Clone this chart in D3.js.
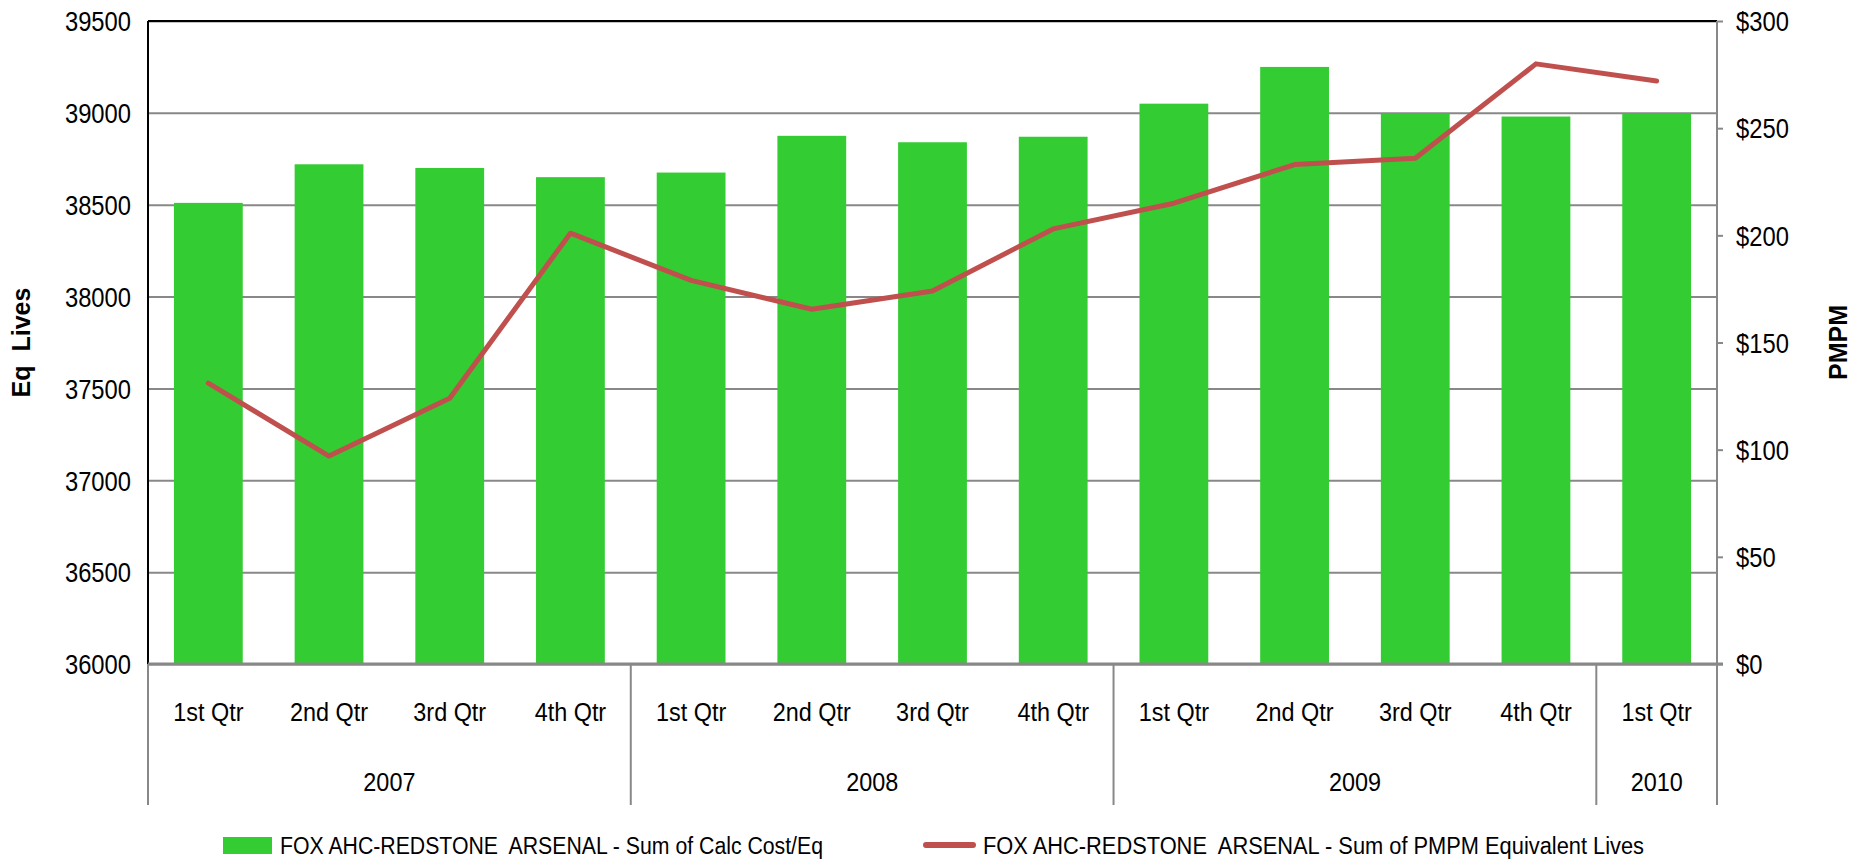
<!DOCTYPE html>
<html>
<head>
<meta charset="utf-8">
<script src="https://cdn.jsdelivr.net/npm/d3@7"></script>
<style>
  body { margin: 0; background: #fff; }
  svg { display: block; font-family: "Liberation Sans", Arial, sans-serif; }
</style>
</head>
<body>
<div id="chart"></div>
<script>
// chart values
const quarters = ["1st Qtr", "2nd Qtr", "3rd Qtr", "4th Qtr",
                  "1st Qtr", "2nd Qtr", "3rd Qtr", "4th Qtr",
                  "1st Qtr", "2nd Qtr", "3rd Qtr", "4th Qtr",
                  "1st Qtr"];
const years = ["2007", "2008", "2009", "2010"];
const quartersPerYear = [4, 4, 4, 1];
const calcCost = [38510, 38720, 38700, 38650, 38675, 38875, 38840, 38870, 39050, 39250, 38995, 38980, 38995];
const pmpm = [131, 97, 124, 201, 179, 165.5, 174, 203, 215, 233, 236, 280, 272];
const leftTicks = [36000, 36500, 37000, 37500, 38000, 38500, 39000, 39500];
const rightTicks = [0, 50, 100, 150, 200, 250, 300];
const seriesNames = ["FOX AHC-REDSTONE  ARSENAL - Sum of Calc Cost/Eq",
                     "FOX AHC-REDSTONE  ARSENAL - Sum of PMPM Equivalent Lives"];

const width = 1866;
const height = 859;
const plot = { left: 148, right: 1717, top: 21, bottom: 664, catBottom: 805 };
const barColor = "#33CC33";
const lineColor = "#C0504D";
const gridColor = "#888888";

const svg = d3.select("#chart")
    .append("svg")
    .attr("width", width)
    .attr("height", height);

// scales
const x = d3.scaleBand()
    .domain(d3.range(quarters.length))
    .range([plot.left, plot.right])
    .paddingInner(0.43)
    .paddingOuter(0.215);

const yLeft = d3.scaleLinear().domain([36000, 39500]).range([plot.bottom, plot.top]);
const yRight = d3.scaleLinear().domain([0, 300]).range([plot.bottom, plot.top]);

// gridlines + left labels
const leftAxis = svg.append("g")
    .attr("transform", `translate(${plot.left},0)`)
    .call(d3.axisLeft(yLeft).tickValues(leftTicks).tickSize(-(plot.right - plot.left)).tickFormat(d => d));
leftAxis.select(".domain").remove();
leftAxis.selectAll(".tick line")
    .attr("stroke", gridColor)
    .attr("stroke-width", 2);
leftAxis.selectAll(".tick text")
    .attr("x", 0)
    .attr("dy", "0.36em")
    .attr("transform", "translate(-17,0) scale(0.88,1)")
    .attr("font-size", 27)
    .attr("fill", "#000");

// bars
svg.append("g")
    .selectAll("rect")
    .data(calcCost)
    .join("rect")
    .attr("x", (d, i) => x(i))
    .attr("y", d => yLeft(d))
    .attr("width", x.bandwidth())
    .attr("height", d => yLeft(36000) - yLeft(d))
    .attr("fill", barColor);

// frame: black top + left, grey right axis and base
svg.append("line")
    .attr("x1", plot.left).attr("x2", plot.right)
    .attr("y1", plot.top).attr("y2", plot.top)
    .attr("stroke", "#000").attr("stroke-width", 2);
svg.append("line")
    .attr("x1", plot.left).attr("x2", plot.left)
    .attr("y1", plot.top).attr("y2", plot.bottom)
    .attr("stroke", "#000").attr("stroke-width", 2);

// right axis
const rightAxis = svg.append("g")
    .attr("transform", `translate(${plot.right},0)`)
    .call(d3.axisRight(yRight).tickValues(rightTicks).tickSize(6).tickSizeOuter(0).tickFormat(d3.format("$")));
rightAxis.select(".domain").remove();
rightAxis.selectAll(".tick line").attr("stroke", gridColor).attr("stroke-width", 2);
rightAxis.selectAll(".tick text")
    .attr("x", 0)
    .attr("dy", "0.36em")
    .attr("transform", "translate(19,0) scale(0.88,1)")
    .attr("font-size", 27)
    .attr("fill", "#000");
svg.append("line")
    .attr("x1", plot.right).attr("x2", plot.right)
    .attr("y1", plot.top).attr("y2", plot.catBottom)
    .attr("stroke", gridColor).attr("stroke-width", 2);

// category axis base
svg.append("line")
    .attr("x1", plot.left).attr("x2", plot.right + 6)
    .attr("y1", plot.bottom).attr("y2", plot.bottom)
    .attr("stroke", gridColor).attr("stroke-width", 3);

// line series
const line = d3.line()
    .x((d, i) => x(i) + x.bandwidth() / 2)
    .y(d => yRight(d));

svg.append("path")
    .datum(pmpm)
    .attr("d", line)
    .attr("fill", "none")
    .attr("stroke", lineColor)
    .attr("stroke-width", 5)
    .attr("stroke-linejoin", "round")
    .attr("stroke-linecap", "round");

// quarter labels
svg.append("g")
    .selectAll("text")
    .data(quarters)
    .join("text")
    .attr("transform", (d, i) => `translate(${x(i) + x.bandwidth() / 2},712) scale(0.9,1)`)
    .attr("dy", "0.36em")
    .attr("text-anchor", "middle")
    .attr("font-size", 26)
    .text(d => d);

// year groups: separators + labels
const edge = i => i >= quarters.length ? plot.right : x(i) - x.step() * x.paddingInner() / 2;
let start = 0;
const groups = years.map((y, k) => {
    const g = { year: y, from: start, to: start + quartersPerYear[k] };
    start = g.to;
    return g;
});

svg.append("g")
    .selectAll("line")
    .data([0, ...groups.map(g => g.to)])
    .join("line")
    .attr("x1", d => edge(d)).attr("x2", d => edge(d))
    .attr("y1", plot.bottom).attr("y2", plot.catBottom)
    .attr("stroke", gridColor).attr("stroke-width", 2);

svg.append("g")
    .selectAll("text")
    .data(groups)
    .join("text")
    .attr("transform", d => `translate(${(edge(d.from) + edge(d.to)) / 2},782) scale(0.9,1)`)
    .attr("dy", "0.36em")
    .attr("text-anchor", "middle")
    .attr("font-size", 26)
    .text(d => d.year);

// axis titles
svg.append("text")
    .attr("transform", `translate(21,${(plot.top + plot.bottom) / 2}) rotate(-90)`)
    .attr("dy", "0.36em")
    .attr("text-anchor", "middle")
    .attr("font-size", 25)
    .attr("font-weight", "bold")
    .style("white-space", "pre")
    .text("Eq  Lives");

svg.append("text")
    .attr("transform", `translate(1838,${(plot.top + plot.bottom) / 2}) rotate(-90)`)
    .attr("dy", "0.36em")
    .attr("text-anchor", "middle")
    .attr("font-size", 25)
    .attr("font-weight", "bold")
    .text("PMPM");

// legend
const legend = svg.append("g");
legend.append("rect")
    .attr("x", 223).attr("y", 837)
    .attr("width", 49).attr("height", 17)
    .attr("fill", barColor);
legend.append("text")
    .attr("x", 280).attr("y", 846)
    .attr("dy", "0.36em")
    .attr("font-size", 23)
    .attr("textLength", 543)
    .attr("lengthAdjust", "spacingAndGlyphs")
    .style("white-space", "pre")
    .text(seriesNames[0]);

legend.append("line")
    .attr("x1", 926).attr("x2", 973)
    .attr("y1", 845).attr("y2", 845)
    .attr("stroke", lineColor)
    .attr("stroke-width", 6)
    .attr("stroke-linecap", "round");
legend.append("text")
    .attr("x", 983).attr("y", 846)
    .attr("dy", "0.36em")
    .attr("font-size", 23)
    .attr("textLength", 661)
    .attr("lengthAdjust", "spacingAndGlyphs")
    .style("white-space", "pre")
    .text(seriesNames[1]);
</script>
</body>
</html>
